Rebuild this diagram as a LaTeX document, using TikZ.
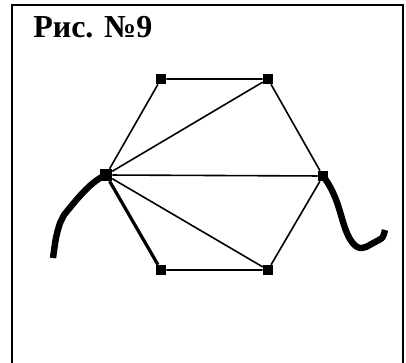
\documentclass[tikz,border=0pt]{standalone}
\usepackage{fontspec}
\setmainfont{Liberation Serif}
\usepackage{tikz}
\usetikzlibrary{positioning}

\tikzset{
  vert/.style={rectangle, fill=black, inner sep=0pt, minimum size=7.5pt},
  edge/.style={line width=1.2pt},
  tail/.style={line width=4.8pt, line join=round}
}

\begin{document}
\begin{tikzpicture}[x=0.75pt, y=-0.75pt]
    \useasboundingbox (0,0) rectangle (406,363);
    % рамка
    \draw[line width=1.5pt] (12,363) -- (12,5) -- (403,5) -- (403,363);
    \node[anchor=base west, inner sep=0pt, font=\bfseries\fontsize{24}{27}\selectfont] (title) at (33,38) {Рис. №9};

    % вершины
    \node[vert] (a) at (161,79) {};
    \node[vert] (b) at (268,79) {};
    \node[vert] (c) at (323,176) {};
    \node[vert] (d) at (268,270) {};
    \node[vert] (e) at (161,270) {};
    \node[vert, minimum size=9pt] (f) at (106,175) {};

    % рёбра
    \draw[edge] (a) -- (b) -- (c) -- (d) -- (e);
    \draw[edge] (f) -- (a);
    \draw[line width=2.4pt] (f) -- (e);
    \foreach \v in {b,c,d} {
        \draw[edge] (f) -- (\v);
    }

    % хвосты
    \draw[tail] (f.center) .. controls (92,181) and (80,195) .. (64,215)
        -- (60,223) .. controls (56,236) .. (53,258);
    \draw[tail] (c.center) .. controls (337,194) and (340,214) .. (345,228)
        .. controls (352,248) and (360,250) .. (366,247)
        -- (377,241) .. controls (383,238) .. (385,230);
\end{tikzpicture}
\end{document}
